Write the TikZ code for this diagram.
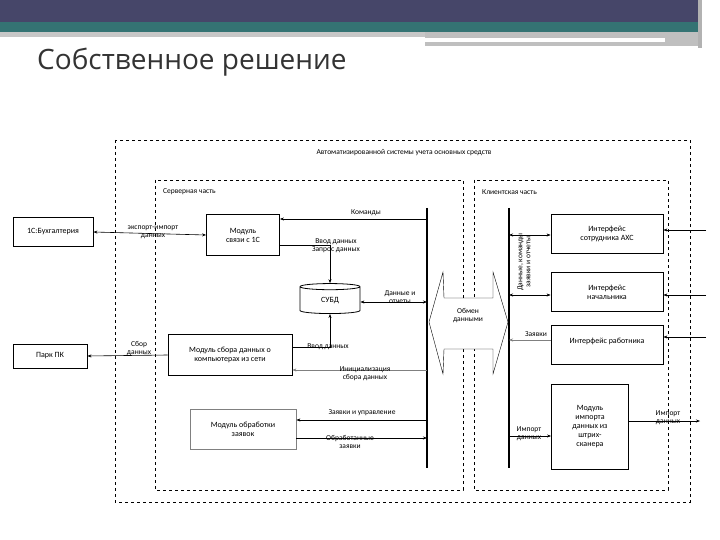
\documentclass[tikz,border=0pt]{standalone}
\usepackage{fontspec}
\setmainfont{Carlito}
\newfontfamily\titlefont{Open Sans}
\usetikzlibrary{shapes.geometric,arrows.meta}
\begin{document}
\begin{tikzpicture}[x=1pt,y=-1pt,
  box/.style={draw,thick,minimum width=0,align=center,font=\fontsize{8}{9}\selectfont,inner sep=1pt},
  lbl/.style={font=\fontsize{7.5}{8}\selectfont,align=center,inner sep=1pt},
  dbox/.style={draw,dashed,thick},
  ar/.style={-{Stealth[length=4pt]},semithick},
  dar/.style={{Stealth[length=4pt]}-{Stealth[length=4pt]},semithick}]
\useasboundingbox (0,0) rectangle (720,540);
\fill[white] (0,0) rectangle (720,540);
% header
\fill[black!10!gray!40!white] (0,22) rectangle (720,37);
\fill[teal!55!gray!90!black] (0,22) rectangle (720,32);
\fill[black!70!blue!45!gray] (0,0) rectangle (720,22);
\fill[gray!50] (425,32) rectangle (720,46);
\fill[white] (425,38) rectangle (665,42);
\fill[white] (700,0) rectangle (720,540);
\fill[gray!60] (698,0) rectangle (702,48);
\node[anchor=base west,font=\titlefont\fontsize{28}{30}\selectfont,text=black!80,inner sep=0] (title) at (37,70) {Собственное решение};
% containers
\draw[dbox] (115,140) rectangle (690,502);
\node[lbl,anchor=center] (sys) at (404,153) {Автоматизированной системы учета основных средств};
\draw[dbox] (155,180) rectangle (463,490);
\node[lbl,anchor=west] (srv) at (162,192) {Серверная часть};
\draw[dbox] (474,180) rectangle (668,490);
\node[lbl,anchor=west] (cli) at (481,192) {Клиентская часть};
% buses
\draw[line width=2.5pt] (427,208) -- (427,468);
\draw[line width=2.5pt] (509,208) -- (509,468);
% exchange arrow
\draw[fill=white] (429,322) -- (443,272) -- (444,298) -- (493,298) -- (493,272) -- (508,322) -- (493,374) -- (493,349) -- (444,349) -- (443,374) -- cycle;
\node[lbl] (obm) at (468,316) {Обмен\\данными};
% nodes
\node[box,minimum width=80,minimum height=29] (b1c) at (53,232) {1С:Бухгалтерия};
\node[box,minimum width=73,minimum height=41] (m1c) at (243,235) {Модуль\\связи с 1С};
\node[draw,thick,cylinder,shape border rotate=90,aspect=0.25,minimum width=60,minimum height=30,font=\fontsize{8}{9}\selectfont] (db) at (330,301) {СУБД};
\node[box,minimum width=74,minimum height=24] (park) at (50,356) {Парк ПК};
\node[box,minimum width=124,minimum height=41] (msb) at (230,355) {Модуль сбора данных о\\компьютерах из сети};
\node[box,minimum width=106,minimum height=40,draw=gray] (mob) at (243,429) {Модуль обработки\\заявок};
\node[box,minimum width=112,minimum height=39] (iax) at (607,234) {Интерфейс\\сотрудника АХС};
\node[box,minimum width=112,minimum height=39] (inach) at (607,292) {Интерфейс\\начальника};
\node[box,minimum width=112,minimum height=39,anchor=north] (irab) at (607,325) {Интерфейс работника\\\mbox{}};
\node[box,minimum width=77,minimum height=85] (mimp) at (590,427) {Модуль\\импорта\\данных из\\штрих-\\сканера};
% bus anchors
\coordinate (lb1) at (427,219); \coordinate (lb2) at (427,302);
\coordinate (lb3) at (427,370); \coordinate (lb4) at (427,420); \coordinate (lb5) at (427,438);
\coordinate (rb1) at (509,235); \coordinate (rb2) at (509,295);
\coordinate (rb3) at (509,340); \coordinate (rb4) at (509,436);
\coordinate (out) at (700,421);
\coordinate (in1) at (706,230); \coordinate (in2) at (706,295); \coordinate (in3) at (706,337);
% connectors
\draw[dar] (b1c.east) -- (m1c.west);
\node[lbl] (l1) at (153,232) {экспорт-импорт\\данных};
\draw[ar] (lb1) -- (m1c.east |- lb1);
\node[lbl] (l2) at (366,213) {Команды};
\draw[ar] (m1c.east |- 0,245) -| (db.top);
\node[lbl] (l3) at (336,246) {Ввод данных\\Запрос данных};
\draw[dar] (db.east |- lb2) -- (lb2);
\node[lbl] (l4) at (400,297) {Данные и\\отчеты};
\draw[ar] (msb.east |- 0,347) -| (db.bottom);
\node[lbl] (l5) at (328,347) {Ввод данных};
\draw[ar,gray] (lb3) -- (msb.east |- lb3);
\node[lbl] (l6) at (365,374) {Инициализация\\сбора данных};
\draw[ar] (msb.west) -- (park.east);
\node[lbl] (l7) at (139,349) {Сбор\\данных};
\draw[ar] (lb4) -- (mob.east |- lb4);
\node[lbl] (l8) at (362,413) {Заявки и управление};
\draw[ar] (mob.east |- lb5) -- (lb5);
\node[lbl] (l9) at (350,442) {Обработанные\\заявки};
\draw[dar] (rb1) -- (iax.west |- rb1);
\draw[dar] (rb2) -- (inach.west |- rb2);
\node[lbl,rotate=90] (l10) at (524,262) {Данные, команды\\заявки и отчеты};
\draw[ar,gray] (irab.west |- rb3) -- (rb3);
\node[lbl] (l11) at (536,334) {Заявки};
\draw[ar] (rb4) -- (mimp.west |- rb4);
\node[lbl] (l12) at (529,434) {Импорт\\данных};
\draw[ar] (mimp.east |- out) -- (out);
\node[lbl] (l13) at (668,418) {Импорт\\данных};
\draw[ar] (in1) -- (iax.east |- in1);
\draw[ar] (in2) -- (inach.east |- in2);
\draw[ar] (in3) -- (irab.east |- in3);
\end{tikzpicture}
\end{document}
